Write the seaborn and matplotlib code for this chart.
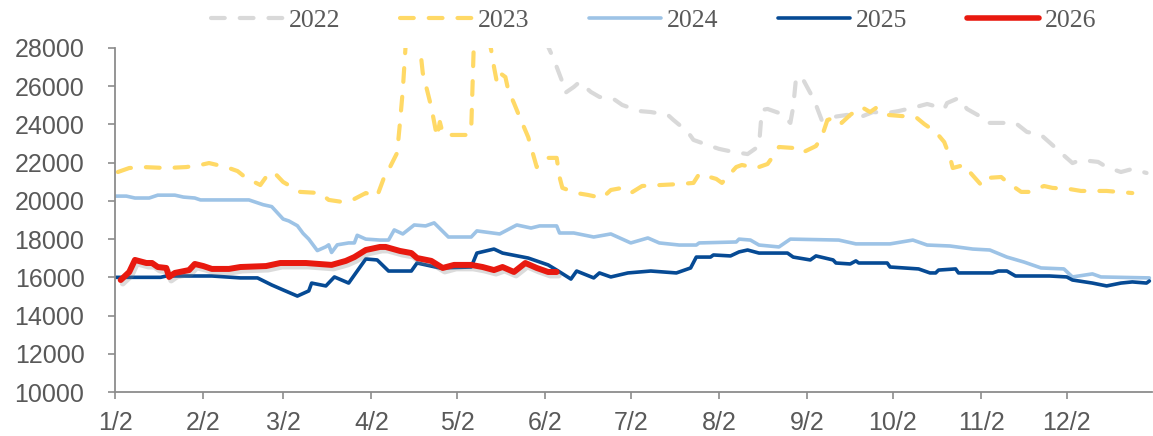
import pandas as pd
import numpy as np
import matplotlib
matplotlib.use("Agg")
import matplotlib.pyplot as plt
import matplotlib.patheffects as pe
from matplotlib.lines import Line2D
import seaborn as sns

# ---------------- data ----------------
dates_2022 = ["06-02", "06-04", "06-06", "06-08", "06-09", "06-12", "06-14", "06-18", "06-21", "06-26",
              "06-29", "07-05", "07-09", "07-15", "07-17", "07-22", "07-24", "07-30", "08-02", "08-07",
              "08-12", "08-16", "08-17", "08-19", "08-24", "08-27", "08-28", "08-29", "08-31", "09-03",
              "09-05", "09-07", "09-11", "09-16", "09-19", "09-25", "09-30", "10-04", "10-10", "10-14",
              "10-18", "10-20", "10-21", "10-25", "10-28", "11-02", "11-04", "11-14", "11-18", "11-23",
              "11-27", "11-30", "12-04", "12-07", "12-13", "12-16", "12-21", "12-25", "12-30"]
vals_2022 = [28400, 27740, 27010, 26220, 25650, 25960, 26220, 25700, 25440, 25330,
             25020, 24700, 24650, 24500, 24230, 23610, 23190, 22870, 22720, 22560,
             22450, 22870, 24760, 24810, 24550, 24080, 24910, 26430, 26480, 25650,
             25020, 24230, 24390, 24500, 24290, 24650, 24600, 24700, 24910, 25070,
             24910, 24810, 25120, 25380, 24810, 24390, 24080, 24080, 23610, 23450,
             22920, 22510, 21980, 22140, 22040, 21770, 21510, 21670, 21460]

dates_2023 = ["01-03", "01-07", "01-12", "01-20", "01-27", "02-01", "02-04", "02-10", "02-14", "02-17",
              "02-22", "02-25", "02-27", "03-02", "03-08", "03-15", "03-18", "03-23", "03-27", "03-31",
              "04-04", "04-07", "04-08", "04-11", "04-12", "04-13", "04-15", "04-18", "04-20", "04-23",
              "04-25", "04-26", "04-27", "04-28", "05-06", "05-07", "05-08", "05-10", "05-13", "05-14",
              "05-15", "05-16", "05-17", "05-19", "05-20", "05-22", "05-24", "05-27", "05-30", "06-03",
              "06-06", "06-07", "06-08", "06-13", "06-17", "06-22", "06-25", "06-29", "07-02", "07-06",
              "07-19", "07-24", "07-26", "08-01", "08-03", "08-08", "08-10", "08-15", "08-19", "08-22",
              "08-23", "08-28", "08-31", "09-05", "09-07", "09-09", "09-12", "09-14", "09-17", "09-21",
              "09-24", "09-26", "09-30", "10-05", "10-10", "10-13", "10-17", "10-20", "10-22", "10-23",
              "10-27", "10-28", "11-02", "11-04", "11-09", "11-11", "11-16", "11-19", "11-24", "11-27",
              "12-03", "12-07", "12-16", "12-25"]
vals_2023 = [21510, 21720, 21770, 21720, 21770, 21880, 21980, 21770, 21560, 21200,
             20830, 21460, 21460, 20990, 20470, 20410, 20050, 19940, 20100, 20410,
             20250, 21460, 21620, 22510, 24080, 25800, 30500, 29500, 26700, 24910,
             23340, 24130, 23550, 23450, 23450, 23710, 28600, 30000, 28600, 27900,
             27010, 26220, 26700, 26480, 25800, 25120, 24390, 23340, 21770, 22250,
             22250, 21250, 20680, 20410, 20310, 20150, 20570, 20680, 20410, 20780,
             20880, 20940, 21410, 21150, 20940, 21770, 21880, 21720, 21930, 22560,
             22820, 22770, 22510, 22870, 23340, 24230, 24390, 24080, 24500, 24910,
             24650, 24860, 24500, 24440, 24390, 24020, 23610, 23080, 22300, 21720,
             21880, 21670, 20830, 21200, 21250, 20990, 20470, 20470, 20780, 20680,
             20620, 20520, 20520, 20410]

dates_2024 = ["01-02", "01-06", "01-09", "01-14", "01-17", "01-23", "01-26", "01-30", "02-01", "02-18",
              "02-23", "02-26", "03-02", "03-04", "03-07", "03-09", "03-11", "03-14", "03-17", "03-18",
              "03-19", "03-21", "03-25", "03-27", "03-28", "03-31", "04-05", "04-08", "04-10", "04-13",
              "04-17", "04-21", "04-24", "04-29", "05-07", "05-09", "05-17", "05-23", "05-28", "05-31",
              "06-06", "06-07", "06-12", "06-19", "06-25", "07-02", "07-08", "07-12", "07-19", "07-25",
              "07-26", "08-08", "08-09", "08-13", "08-16", "08-23", "08-27", "09-13", "09-19", "10-01",
              "10-09", "10-14", "10-22", "10-30", "11-05", "11-11", "11-17", "11-23", "12-01", "12-04",
              "12-11", "12-14", "12-31"]
vals_2024 = [20250, 20250, 20150, 20150, 20300, 20300, 20200, 20150, 20050, 20050,
             19800, 19700, 19050, 18950, 18700, 18300, 18000, 17400, 17600, 17700,
             17300, 17700, 17800, 17800, 18200, 18000, 17950, 17950, 18480, 18270,
             18740, 18690, 18850, 18110, 18110, 18430, 18270, 18740, 18580, 18690,
             18690, 18320, 18320, 18110, 18270, 17800, 18060, 17800, 17690, 17690,
             17800, 17850, 18000, 17950, 17690, 17590, 18000, 17950, 17750, 17750,
             17950, 17690, 17640, 17480, 17430, 17060, 16800, 16490, 16440, 16020,
             16180, 16020, 15970]

dates_2025 = ["01-02", "01-18", "01-20", "02-05", "02-15", "02-21", "02-26", "03-02", "03-07", "03-11",
              "03-12", "03-17", "03-20", "03-25", "03-31", "04-04", "04-08", "04-16", "04-18", "04-26",
              "05-07", "05-09", "05-15", "05-18", "05-27", "06-03", "06-06", "06-11", "06-13", "06-19",
              "06-21", "06-25", "07-01", "07-09", "07-18", "07-23", "07-25", "07-30", "07-31", "08-06",
              "08-09", "08-12", "08-16", "08-26", "08-28", "09-03", "09-05", "09-11", "09-12", "09-17",
              "09-19", "09-20", "09-30", "10-01", "10-11", "10-15", "10-17", "10-18", "10-24", "10-25",
              "11-06", "11-08", "11-11", "11-14", "11-26", "12-02", "12-04", "12-11", "12-16", "12-21",
              "12-25", "12-30", "12-31"]
vals_2025 = [16000, 16000, 16070, 16070, 15970, 15970, 15600, 15340, 15020, 15290,
             15700, 15550, 16020, 15700, 16960, 16910, 16330, 16330, 16750, 16490,
             16540, 17270, 17480, 17270, 17010, 16650, 16380, 15910, 16330, 15970,
             16230, 16020, 16230, 16330, 16230, 16490, 17060, 17060, 17170, 17120,
             17330, 17430, 17270, 17270, 17060, 16910, 17120, 16910, 16750, 16700,
             16860, 16750, 16750, 16540, 16440, 16230, 16230, 16380, 16440, 16230,
             16230, 16330, 16330, 16070, 16070, 16020, 15860, 15700, 15550, 15700,
             15760, 15700, 15810]

dates_2026 = ["01-04", "01-07", "01-09", "01-13", "01-15", "01-17", "01-20", "01-21", "01-23", "01-28",
              "01-30", "02-02", "02-05", "02-11", "02-15", "02-24", "03-01", "03-10", "03-19", "03-24",
              "03-27", "03-31", "04-05", "04-07", "04-12", "04-16", "04-18", "04-23", "04-27", "05-01",
              "05-07", "05-11", "05-15", "05-18", "05-22", "05-26", "05-30", "06-03", "06-06"]
vals_2026 = [15860, 16280, 16910, 16750, 16750, 16540, 16490, 16020, 16230, 16380,
             16700, 16590, 16440, 16440, 16540, 16590, 16750, 16750, 16650, 16860,
             17060, 17430, 17590, 17590, 17380, 17270, 17010, 16860, 16490, 16650,
             16650, 16540, 16380, 16540, 16280, 16750, 16490, 16280, 16280]

years = ["2022", "2023", "2024", "2025", "2026"]
tick_dates = ["01-02", "02-02", "03-02", "04-02", "05-02", "06-02",
              "07-02", "08-02", "09-02", "10-02", "11-02", "12-02"]
tick_labels = ["1/2", "2/2", "3/2", "4/2", "5/2", "6/2",
               "7/2", "8/2", "9/2", "10/2", "11/2", "12/2"]
y_ticks = [10000, 12000, 14000, 16000, 18000, 20000, 22000, 24000, 26000, 28000]

# ---------------- styling ----------------
colors = {"2022": "#D9D9D9", "2023": "#FFD966", "2024": "#9DC3E6",
          "2025": "#064A94", "2026": "#E8190F"}
widths = {"2022": 3.0, "2023": 3.0, "2024": 2.6, "2025": 2.6, "2026": 4.3}
dashed = {"2022": True, "2023": True, "2024": False, "2025": False, "2026": False}

BASE_YEAR = "2021-"  # common non-leap calendar for all seasons


def to_dt(mds):
    return pd.to_datetime([BASE_YEAR + m for m in mds])


series = {
    "2022": (dates_2022, vals_2022),
    "2023": (dates_2023, vals_2023),
    "2024": (dates_2024, vals_2024),
    "2025": (dates_2025, vals_2025),
    "2026": (dates_2026, vals_2026),
}

sns.set_theme(style="white")
plt.rcParams["font.family"] = ["Liberation Sans", "DejaVu Sans"]

fig = plt.figure(figsize=(11.53, 4.36), dpi=100)
ax = fig.add_axes([115 / 1153, 44 / 436, 1037 / 1153, 344 / 436])

for yr in years:
    d, v = series[yr]
    df = pd.DataFrame({"date": to_dt(d), "value": v})
    sns.lineplot(data=df, x="date", y="value", ax=ax, color=colors[yr],
                 linewidth=widths[yr], estimator=None, sort=False, legend=False)
    ln = ax.lines[-1]
    ln.set_solid_capstyle("round")
    ln.set_solid_joinstyle("round")
    if dashed[yr]:
        ln.set_linestyle((0, (3.3, 3.6)))
        ln.set_dash_capstyle("round")
    if yr == "2026":
        ln.set_path_effects([
            pe.SimpleLineShadow(offset=(1.5, -2.5), shadow_color="#808080", alpha=0.28),
            pe.Normal()])
        ln.set_zorder(5)

ax.set_ylim(10000, 28000)
ax.set_yticks(y_ticks)
ax.set_yticklabels([str(t) for t in y_ticks])
ax.set_xlim(pd.Timestamp("2021-01-02"), pd.Timestamp("2021-12-31 22:00"))
ax.set_xticks(to_dt(tick_dates))
ax.set_xticklabels(tick_labels)
ax.set_xlabel("")
ax.set_ylabel("")

for s in ["top", "right"]:
    ax.spines[s].set_visible(False)
for s in ["left", "bottom"]:
    ax.spines[s].set_color("#8C8C8C")
    ax.spines[s].set_linewidth(1.3)

ax.tick_params(axis="both", which="major", direction="out", length=5, width=1.2,
               color="#8C8C8C", labelsize=18, labelcolor="#595959")
ax.tick_params(axis="y", pad=17, left=True)
ax.tick_params(axis="x", pad=9, bottom=True)
ax.grid(False)

# legend
leg_handles = []
for yr in years:
    h = Line2D([], [], color=colors[yr], linewidth=widths[yr] if yr != "2026" else 4.0,
               solid_capstyle="round", dash_capstyle="round")
    if dashed[yr]:
        h.set_linestyle((0, (3.3, 3.6)))
    leg_handles.append(h)

leg = fig.legend(leg_handles, years, loc="center", bbox_to_anchor=(0.567, 1 - 21 / 436),
                 ncol=5, frameon=False, handlelength=2.8, handletextpad=0.25,
                 columnspacing=2.3, prop={"family": ["Liberation Serif", "DejaVu Serif"], "size": 18.5})
for t in leg.get_texts():
    t.set_color("#595959")

fig.savefig("out.png", dpi=100, facecolor="white")
